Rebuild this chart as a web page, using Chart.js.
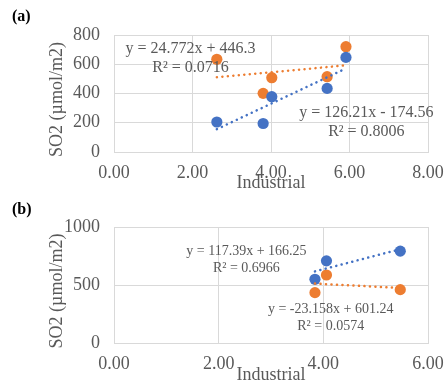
<!DOCTYPE html>
<html>
<head>
<meta charset="utf-8">
<script src="https://cdn.jsdelivr.net/npm/chart.js@4"></script>
<style>
  html, body { margin: 0; padding: 0; background: #fff; width: 445px; height: 385px; overflow: hidden; }
  .wrap { position: absolute; left: 0; width: 445px; }
  .tag { position: absolute; left: 12px; font: bold 16px 'Liberation Serif', 'Times New Roman', serif; color: #000; line-height: 18px; }
</style>
</head>
<body>
<div class="wrap" style="top:0; height:192px"><canvas id="chartA"></canvas></div>
<div class="wrap" style="top:190px; height:195px"><canvas id="chartB"></canvas></div>
<div class="tag" style="top:7px">(a)</div>
<div class="tag" style="top:200px">(b)</div>
<script>
const FONT = "'Liberation Serif', 'Times New Roman', serif";
const TEXT = '#595959';
const GRID = '#d9d9d9';
const BLUE = '#4472C4';
const ORANGE = '#ED7D31';

// Panel (a)
const industrialA = [2.62, 3.80, 4.02, 5.43, 5.91];
const so2BlueA = [205, 195, 378, 435, 647];
const so2OrangeA = [634, 401, 508, 515, 720];
const xTicksA = [0, 2, 4, 6, 8];
const yTicksA = [0, 200, 400, 600, 800];
// linear fits: [slope, intercept, R²]
const fitBlueA = [126.21, -174.56, 0.8006];
const fitOrangeA = [24.772, 446.3, 0.0716];

// Panel (b)
const industrialB = [3.84, 4.06, 5.47];
const so2BlueB = [549, 708, 792];
const so2OrangeB = [434, 586, 460];
const xTicksB = [0, 2, 4, 6];
const yTicksB = [0, 500, 1000];
const fitBlueB = [117.39, 166.25, 0.6966];
const fitOrangeB = [-23.158, 601.24, 0.0574];

const Y_TITLE = 'SO2 (\u00B5mol/m2)';
const X_TITLE = 'Industrial';

function fitText(fit) {
  const [m, b, r2] = fit;
  const sign = b < 0 ? '-' : '+';
  return ['y = ' + m + 'x ' + sign + ' ' + Math.abs(b), 'R\u00B2 = ' + r2.toFixed(4)];
}

function fitLine(xs, fit) {
  const lo = Math.min(...xs), hi = Math.max(...xs);
  return [lo, hi].map(x => ({ x, y: fit[0] * x + fit[1] }));
}

// equation / R² boxes next to the fitted lines
const fitLabelPlugin = {
  id: 'fitLabels',
  afterDatasetsDraw(chart, args, opts) {
    const { ctx, scales: { x, y } } = chart;
    ctx.save();
    ctx.font = opts.size + 'px ' + FONT;
    ctx.fillStyle = TEXT;
    ctx.textAlign = 'center';
    ctx.textBaseline = 'middle';
    opts.items.forEach(it => {
      const px = x.getPixelForValue(it.at[0]);
      const py = y.getPixelForValue(it.at[1]);
      it.lines.forEach((t, i) => ctx.fillText(t, px, py + i * opts.gap));
    });
    ctx.restore();
  }
};

// vertical axis title, centred a little below the middle of the plot
const yTitlePlugin = {
  id: 'yTitle',
  afterDraw(chart, args, opts) {
    const { ctx, chartArea } = chart;
    ctx.save();
    ctx.translate(opts.x, (chartArea.top + chartArea.bottom) / 2 + opts.dy);
    ctx.rotate(-Math.PI / 2);
    ctx.font = '18px ' + FONT;
    ctx.fillStyle = TEXT;
    ctx.textAlign = 'center';
    ctx.textBaseline = 'middle';
    ctx.fillText(opts.text, 0, 0);
    ctx.restore();
  }
};

function noPad(s) {
  s.paddingLeft = 0; s.paddingRight = 0; s.paddingTop = 0; s.paddingBottom = 0;
}

function buildPanel(id, xs, blue, orange, fitB, fitO, xTicks, yTicks, geo, labels) {
  const pts = arr => xs.map((x, i) => ({ x, y: arr[i] }));
  const dotted = color => ({
    showLine: true, borderColor: color, borderWidth: 2.5,
    borderDash: [0.1, 5.4], borderCapStyle: 'round',
    pointRadius: 0, pointHoverRadius: 0, fill: false
  });
  const marker = color => ({
    backgroundColor: color, borderColor: color, borderWidth: 0,
    pointRadius: 5.6, pointHoverRadius: 5.6, showLine: false
  });
  new Chart(document.getElementById(id), {
    type: 'scatter',
    data: {
      datasets: [
        Object.assign({ data: fitLine(xs, fitB), order: 0 }, dotted(BLUE)),
        Object.assign({ data: fitLine(xs, fitO), order: 1 }, dotted(ORANGE)),
        Object.assign({ data: pts(blue), order: 2 }, marker(BLUE)),
        Object.assign({ data: pts(orange), order: 3 }, marker(ORANGE))
      ]
    },
    options: {
      responsive: true,
      maintainAspectRatio: false,
      animation: false,
      events: [],
      layout: { padding: { left: 48, right: 17, top: geo.top, bottom: 0 } },
      plugins: {
        legend: { display: false },
        tooltip: { enabled: false },
        fitLabels: labels,
        yTitle: { text: Y_TITLE, x: 57, dy: 6 }
      },
      scales: {
        x: {
          type: 'linear',
          min: xTicks[0], max: xTicks[xTicks.length - 1],
          afterBuildTicks: s => { s.ticks = xTicks.map(v => ({ value: v })); },
          afterFit: s => { s.height = geo.xh; noPad(s); },
          grid: { color: GRID, lineWidth: 1, drawTicks: false },
          border: { color: GRID },
          ticks: {
            padding: 10, color: TEXT,
            font: { family: FONT, size: 18 },
            maxRotation: 0, autoSkip: false,
            callback: v => Number(v).toFixed(2)
          },
          title: {
            display: true, text: X_TITLE, color: TEXT,
            font: { family: FONT, size: 18, lineHeight: 1 },
            padding: { top: 0, bottom: geo.tb }
          }
        },
        y: {
          type: 'linear',
          min: yTicks[0], max: yTicks[yTicks.length - 1],
          afterBuildTicks: s => { s.ticks = yTicks.map(v => ({ value: v })); },
          afterFit: s => { s.width = 66; noPad(s); },
          grid: { color: GRID, lineWidth: 1, drawTicks: false },
          border: { color: GRID },
          ticks: {
            padding: 14, color: TEXT,
            font: { family: FONT, size: 18 },
            callback: v => String(v)
          },
          title: { display: false }
        }
      }
    },
    plugins: [fitLabelPlugin, yTitlePlugin]
  });
}

buildPanel('chartA', industrialA, so2BlueA, so2OrangeA, fitBlueA, fitOrangeA, xTicksA, yTicksA,
  { top: 35, xh: 40, tb: 0 },
  { size: 16, gap: 19, items: [
    { at: [1.95, 704], lines: fitText(fitOrangeA) },
    { at: [6.43, 267], lines: fitText(fitBlueA) }
  ] });

buildPanel('chartB', industrialB, so2BlueB, so2OrangeB, fitBlueB, fitOrangeB, xTicksB, yTicksB,
  { top: 37, xh: 42, tb: 1 },
  { size: 14, gap: 17, items: [
    { at: [2.53, 786], lines: fitText(fitBlueB) },
    { at: [4.14, 294], lines: fitText(fitOrangeB) }
  ] });
</script>
</body>
</html>
